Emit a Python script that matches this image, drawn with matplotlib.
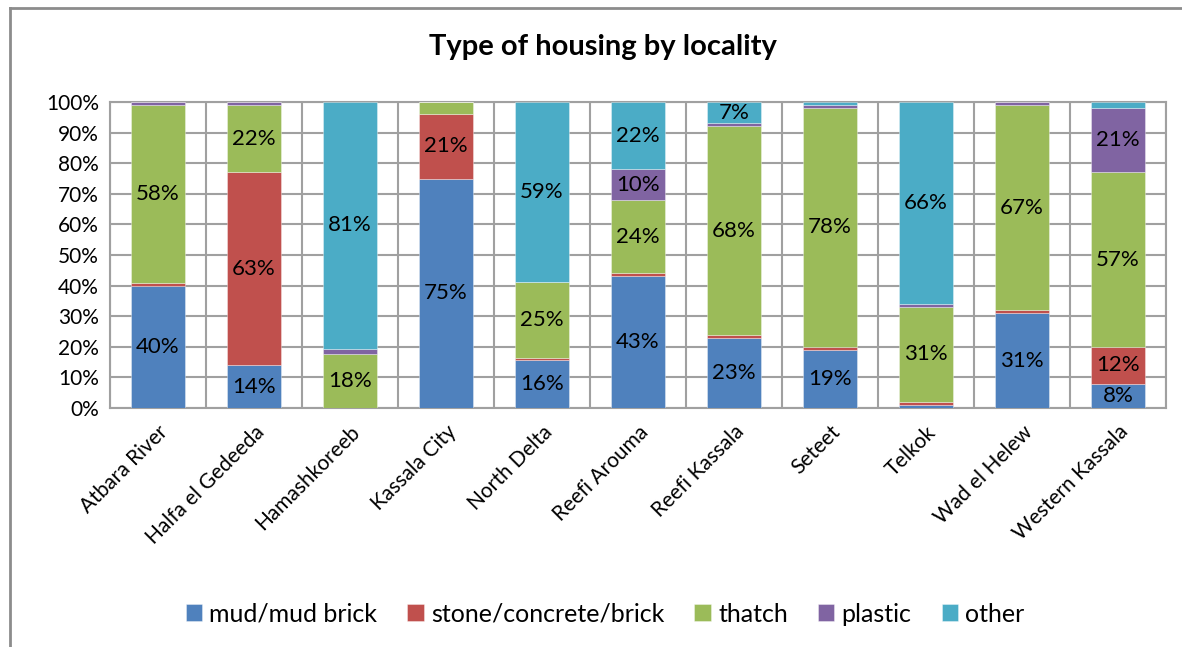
import matplotlib
matplotlib.use("Agg")
import matplotlib.pyplot as plt
from matplotlib.lines import Line2D
import numpy as np

plt.rcParams['font.family'] = ['Lato', 'DejaVu Sans']

localities = ["Atbara River", "Halfa el Gedeeda", "Hamashkoreeb", "Kassala City",
              "North Delta", "Reefi Arouma", "Reefi Kassala", "Seteet", "Telkok",
              "Wad el Helew", "Western Kassala"]
series_names = ["mud/mud brick", "stone/concrete/brick", "thatch", "plastic", "other"]
colors = ["#4F81BD", "#C0504D", "#9BBB59", "#8064A2", "#4BACC6"]

mud      = [40, 14, 0,    75, 15.7, 43, 23, 19, 1,  31, 8]
stone    = [1,  63, 0,    21, 0.8,  1,  1,  1,  1,  1,  12]
thatch   = [58, 22, 17.7, 4,  24.8, 24, 68, 78, 31, 67, 57]
plastic  = [1,  1,  1.7,  0,  0,    10, 1,  1,  1,  1,  21]
other    = [0,  0,  80.6, 0,  58.7, 22, 7,  1,  66, 0,  2]

series = [mud, stone, thatch, plastic, other]

fig = plt.figure(figsize=(11.82, 6.47), dpi=100)
ax = fig.add_axes([110/1182, 1-408/647, 1056/1182, 306/647])

x = np.arange(len(localities))
bottom = np.zeros(len(localities))
for name, vals, col in zip(series_names, series, colors):
    vals = np.array(vals, dtype=float)
    ax.bar(x, vals, 0.57, bottom=bottom, color=col, label=name,
           edgecolor=(1, 1, 1, 0.5), linewidth=0.5, zorder=3)
    for xi, v, b in zip(x, vals, bottom):
        if v >= 5:
            ax.text(xi, b + v/2, f"{round(v)}%", ha='center', va='center',
                    fontsize=16, color='black', zorder=4)
    bottom += vals

ax.set_xlim(-0.5, len(localities) - 0.5)
ax.set_ylim(0, 100)
ax.set_yticks(np.arange(0, 101, 10))
ax.set_yticklabels([f"{v}%" for v in range(0, 101, 10)], fontsize=15)
ax.set_xticks(x)
ax.set_xticklabels(localities, rotation=45, ha='right', rotation_mode='anchor', fontsize=15)
ax.set_xticks(np.arange(-0.5, len(localities), 1), minor=True)
ax.tick_params(axis='both', which='both', length=0)
ax.tick_params(axis='y', pad=8)
ax.tick_params(axis='x', pad=10)
ax.grid(axis='y', which='major', color='#A0A0A0', linewidth=1.5, zorder=0)
ax.grid(axis='x', which='minor', color='#A0A0A0', linewidth=1.5, zorder=0)
for s in ax.spines.values():
    s.set_color('#A0A0A0')
    s.set_linewidth(1.5)

fig.text(603/1182, 1-47/647, "Type of housing by locality", ha='center', va='center',
         fontsize=21, fontweight='bold')

handles, labels = ax.get_legend_handles_labels()
fig.legend(handles, labels, loc='center', bbox_to_anchor=(605/1182, 1-614/647), ncol=5,
           frameon=False, fontsize=18, handlelength=0.65, handleheight=0.65,
           handletextpad=0.3, columnspacing=1.2)

fx = 10/1182
fy = 1 - 8/647
fig.lines.append(Line2D([fx, fx], [0, fy], transform=fig.transFigure, color='#8C8C8C', linewidth=2))
fig.lines.append(Line2D([fx, 1], [fy, fy], transform=fig.transFigure, color='#8C8C8C', linewidth=2))

fig.savefig("out.png", dpi=100)
